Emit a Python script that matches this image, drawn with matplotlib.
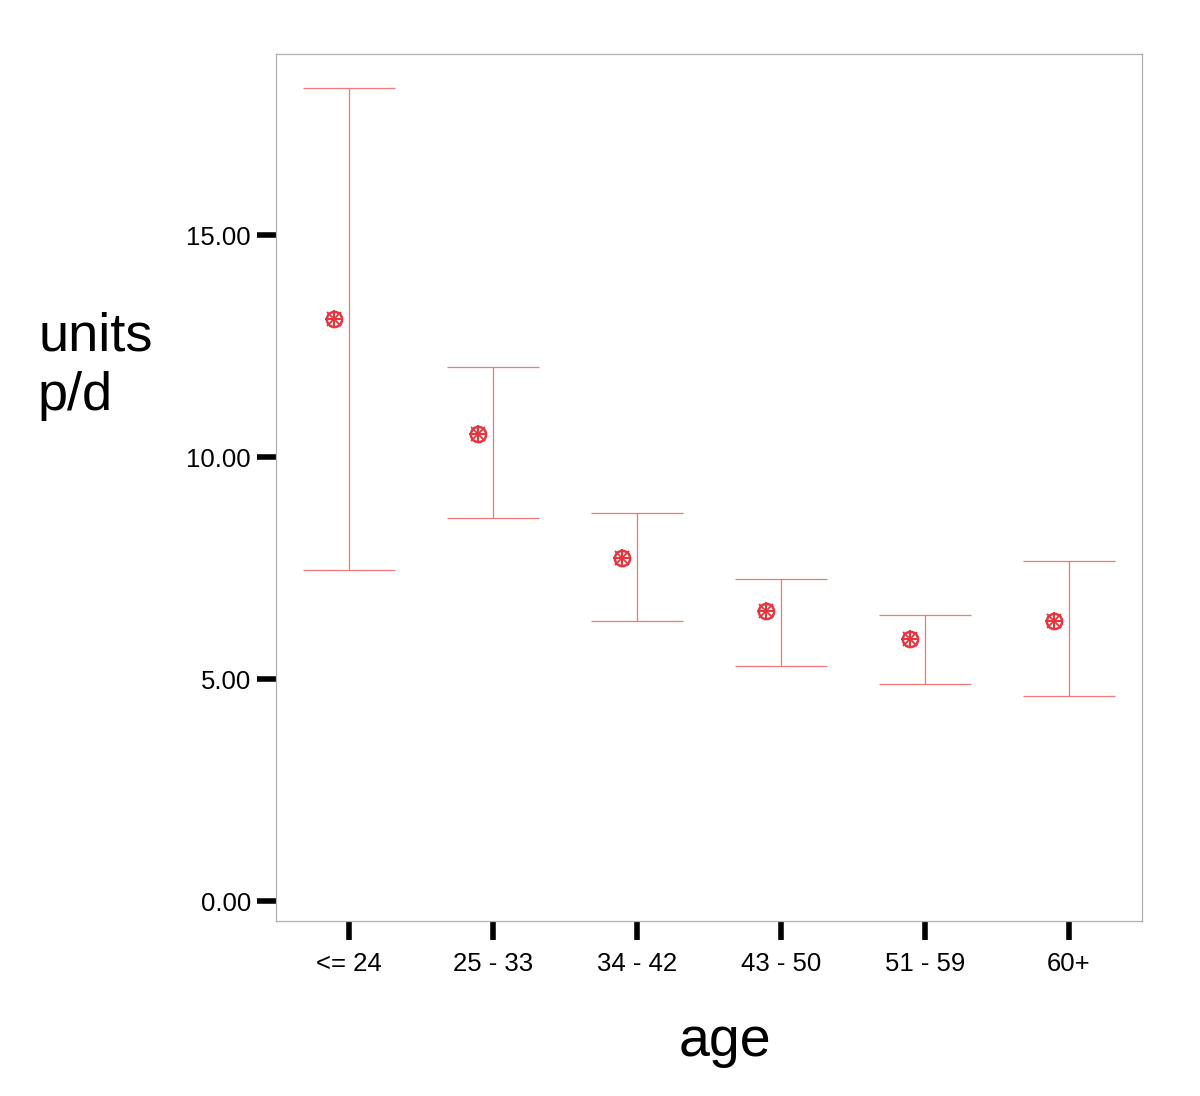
import matplotlib
matplotlib.use("Agg")
import matplotlib.pyplot as plt
import numpy as np

categories = ["<= 24", "25 - 33", "34 - 42", "43 - 50", "51 - 59", "60+"]
means = [13.11, 10.52, 7.73, 6.53, 5.90, 6.31]
upper = [18.31, 12.02, 8.74, 7.25, 6.44, 7.66]
lower = [7.45, 8.63, 6.31, 5.29, 4.89, 4.62]
yticks = [0, 5, 10, 15]
ytick_labels = ["0.00", "5.00", "10.00", "15.00"]

plt.rcParams['font.family'] = ['Liberation Sans', 'DejaVu Sans']

fig = plt.figure(figsize=(12, 10.96), dpi=100)
ax = fig.add_axes([276/1200, 1 - 921/1096, (1142-276)/1200, (921-54)/1096])

x = np.arange(len(categories))
means = np.array(means); upper = np.array(upper); lower = np.array(lower)

ebar_color = "#f07878"
ax.vlines(x, lower, upper, color=ebar_color, lw=0.9)
ax.hlines(upper, x - 0.32, x + 0.32, color=ebar_color, lw=0.9)
ax.hlines(lower, x - 0.32, x + 0.32, color=ebar_color, lw=0.9)

mx = x - 0.104
mcol = "#e8343c"
ax.plot(mx, means, ls="none", marker="o", ms=11, mfc="none", mec=mcol, mew=1.8)
ax.plot(mx, means, ls="none", marker="+", ms=13, mec=mcol, mew=1.5)
ax.plot(mx, means, ls="none", marker="x", ms=10, mec=mcol, mew=1.3)

ax.set_xlim(-0.507, 5.507)
ax.set_ylim(-0.45, 19.08)
ax.set_xticks(x)
ax.set_xticklabels(categories, fontsize=18.5)
ax.set_yticks(yticks)
ax.set_yticklabels(ytick_labels, fontsize=18.5)
ax.tick_params(axis='both', direction='out', length=14, width=4, color='black')
ax.tick_params(axis='y', pad=4)
ax.tick_params(axis='x', pad=8)

for s in ax.spines.values():
    s.set_color("#b0b0b0")
    s.set_linewidth(0.9)

fig.text(38/1200, 1 - 366/1096, "units\np/d", fontsize=39, ha='left', va='center', linespacing=1.25)
fig.text(725/1200, 1 - 1042/1096, "age", fontsize=40, ha='center', va='center')

fig.savefig("out.png", dpi=100, facecolor="white")
